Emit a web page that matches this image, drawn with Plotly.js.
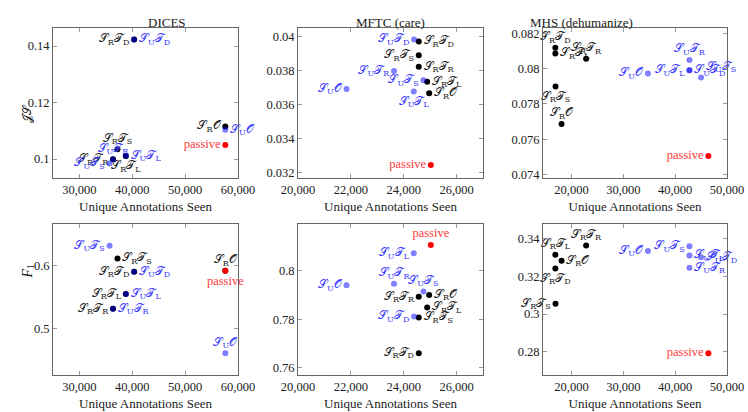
<!DOCTYPE html>
<html>
<head>
<meta charset="utf-8">
<script src="https://cdn.plot.ly/plotly-3.0.1.min.js"></script>
<style>body{margin:0;background:#fff}</style>
</head>
<body>
<div id="chart" style="width:748px;height:412px"></div>
<script>
// order of methods in every array: O, T_D, T_L, T_R, T_S
const methods = ['', 'D', 'L', 'R', 'S'];

// DICES
const dicesSrX = [57600, 40350, 38780, 36350, 37200];
const dicesSrJS = [0.1115, 0.1423, 0.1011, 0.0999, 0.1035];
const dicesSrF1 = [0.592, 0.5905, 0.555, 0.5318, 0.6116];
const dicesSuX = [57600, 40350, 38780, 36350, 35700];
const dicesSuJS = [0.1104, 0.1423, 0.1011, 0.0999, 0.0984];
const dicesSuF1 = [0.4609, 0.5905, 0.555, 0.5318, 0.6317];
const dicesPassive = {x: 57600, js: 0.105, f1: 0.592};

// MFTC (care)
const mftcSrX = [24963, 24570, 24887, 24570, 24570];
const mftcSrJS = [0.03667, 0.03971, 0.03735, 0.03822, 0.0389];
const mftcSrF1 = [0.790, 0.766, 0.7848, 0.7893, 0.7807];
const mftcSuX = [21836, 24393, 24380, 23633, 24747];
const mftcSuJS = [0.03692, 0.03982, 0.03677, 0.03798, 0.03743];
const mftcSuF1 = [0.794, 0.7811, 0.8072, 0.7946, 0.7915];
const mftcPassive = {x: 25026, js: 0.03247, f1: 0.8106};

// MHS (dehumanize)
const mhsSrX = [18077, 16880, 16880, 22820, 16920];
const mhsSrJS = [0.07686, 0.08118, 0.08086, 0.08056, 0.07899];
const mhsSrF1 = [0.3282, 0.3241, 0.3314, 0.3363, 0.3054];
const mhsSuXJS = [34743, 42756, 42756, 42756, 45000];
const mhsSuJS = [0.07972, 0.0799, 0.0799, 0.08048, 0.0795];
const mhsSuXF1 = [34743, 45000, 42756, 42756, 42756];
const mhsSuF1 = [0.3333, 0.3300, 0.331, 0.3245, 0.3358];
const mhsPassive = {x: 46409, js: 0.07504, f1: 0.2793};

// label placement per panel
const pos = {
  dicesJS: {sr: ['middle left','middle left','bottom center','middle left','top center'],
            su: ['middle right','middle right','middle right','top center','middle left'], p: 'middle left'},
  dicesF1: {sr: ['top center','middle left','middle left','middle left','middle right'],
            su: ['top center','middle right','middle right','middle right','middle left'], p: 'bottom center'},
  mftcJS: {sr: ['middle right','middle right','middle right','middle right','middle left'],
           su: ['middle left','middle left','bottom center','middle left','middle left'], p: 'middle left'},
  mftcF1: {sr: ['middle right','middle left','middle right','middle left','middle right'],
           su: ['middle left','middle left','middle left','top center','top center'], p: 'top center'},
  mhsJS: {sr: ['top center','top center','middle right','top center','bottom center'],
          su: ['middle left','middle right','middle left','top center','top right'], p: 'middle left'},
  mhsF1: {sr: ['middle right','bottom center','top center','top center','middle left'],
          su: ['middle left','middle right','middle right','middle right','middle left'], p: 'middle left'}
};

const S = '\u{1D4AE}', T = '\u{1D4AF}', O = '\u{1D4AA}';
const label = (sub) => methods.map(m => S + '<sub>' + sub + '</sub>' + (m ? T + '<sub>' + m + '</sub>' : O));
const srText = label('R');
const suText = label('U');

const serif = 'Liberation Serif';
const labelFont = 'DejaVu Serif';
const traces = [];

function panel(n, srX, srY, suX, suY, px, py, p) {
  const xa = 'x' + (n === 1 ? '' : n), ya = 'y' + (n === 1 ? '' : n);
  traces.push({
    x: srX, y: srY, text: srText, textposition: p.sr, xaxis: xa, yaxis: ya,
    type: 'scatter', mode: 'markers+text', cliponaxis: false,
    marker: {color: '#000', size: 6}, textfont: {color: '#222', size: 11.5, family: labelFont}
  });
  traces.push({
    x: suX, y: suY, text: suText, textposition: p.su, xaxis: xa, yaxis: ya,
    type: 'scatter', mode: 'markers+text', cliponaxis: false,
    marker: {color: 'rgba(0,0,255,0.5)', size: 6}, textfont: {color: '#3a3aff', size: 11.5, family: labelFont}
  });
  traces.push({
    x: [px], y: [py], text: ['passive'], textposition: p.p, xaxis: xa, yaxis: ya,
    type: 'scatter', mode: 'markers+text', cliponaxis: false,
    marker: {color: '#ff0000', size: 6}, textfont: {color: '#ff3a3a', size: 12.5, family: serif}
  });
}

panel(1, dicesSrX, dicesSrJS, dicesSuX, dicesSuJS, dicesPassive.x, dicesPassive.js, pos.dicesJS);
panel(2, mftcSrX, mftcSrJS, mftcSuX, mftcSuJS, mftcPassive.x, mftcPassive.js, pos.mftcJS);
panel(3, mhsSrX, mhsSrJS, mhsSuXJS, mhsSuJS, mhsPassive.x, mhsPassive.js, pos.mhsJS);
panel(4, dicesSrX, dicesSrF1, dicesSuX, dicesSuF1, dicesPassive.x, dicesPassive.f1, pos.dicesF1);
panel(5, mftcSrX, mftcSrF1, mftcSuX, mftcSuF1, mftcPassive.x, mftcPassive.f1, pos.mftcF1);
panel(6, mhsSrX, mhsSrF1, mhsSuXF1, mhsSuF1, mhsPassive.x, mhsPassive.f1, pos.mhsF1);

const W = 748, H = 412;
const cols = [[53, 238], [298, 483], [543, 727]];
const rows = [[28, 178], [224, 375]];
const xRanges = [[25000, 60000], [20000, 27000], [14500, 50000]];
const xTicks = [[30000, 40000, 50000, 60000], [20000, 22000, 24000, 26000], [20000, 30000, 40000, 50000]];
const yRanges = [[0.0933, 0.1464], [0.0317, 0.0405], [0.0738, 0.0823],
                 [0.4265, 0.6662], [0.757, 0.8193], [0.2678, 0.3476]];
const yTicks = [[0.1, 0.12, 0.14], [0.032, 0.034, 0.036, 0.038, 0.04], [0.074, 0.076, 0.078, 0.08, 0.082],
                [0.5, 0.6], [0.76, 0.78, 0.8], [0.28, 0.3, 0.32, 0.34]];
const titles = ['DICES', 'MFTC (care)', 'MHS (dehumanize)'];

const tickFont = {family: serif, size: 12.5, color: '#222'};
const layout = {
  width: W, height: H, margin: {l: 0, r: 0, t: 0, b: 0},
  paper_bgcolor: '#fff', plot_bgcolor: '#fff', showlegend: false,
  font: tickFont, annotations: []
};

for (let i = 0; i < 6; i++) {
  const c = i % 3, r = Math.floor(i / 3);
  const key = i === 0 ? '' : String(i + 1);
  const common = {
    showline: true, mirror: 'ticks', linecolor: '#666', linewidth: 1,
    ticks: 'inside', ticklen: 4, tickcolor: '#999', showgrid: false, zeroline: false,
    tickfont: tickFont
  };
  layout['xaxis' + key] = Object.assign({}, common, {
    domain: [cols[c][0] / W, cols[c][1] / W], anchor: 'y' + key,
    range: xRanges[c], tickvals: xTicks[c], tickformat: ',d',
    title: {text: 'Unique Annotations Seen', font: {family: serif, size: 13, color: '#222'}, standoff: 5}
  });
  layout['yaxis' + key] = Object.assign({}, common, {
    domain: [1 - rows[r][1] / H, 1 - rows[r][0] / H], anchor: 'x' + key,
    range: yRanges[i], tickvals: yTicks[i]
  });
}

titles.forEach((t, c) => layout.annotations.push({
  text: t, xref: 'paper', yref: 'paper', x: (cols[c][0] + cols[c][1]) / 2 / W, y: 1 - 13 / H,
  showarrow: false, font: {family: serif, size: 13, color: '#222'}
}));
layout.annotations.push({
  text: '\u{1D4A5}\u{1D4AE}', xref: 'paper', yref: 'paper', x: 17 / W, y: 1 - 102 / H, textangle: -90,
  showarrow: false, font: {family: labelFont, size: 12, color: '#222'}
});
layout.annotations.push({
  text: '<i>F</i><sub>1</sub>', xref: 'paper', yref: 'paper', x: 17 / W, y: 1 - 271 / H, textangle: -90,
  showarrow: false, font: {family: serif, size: 14, color: '#222'}
});

Plotly.newPlot('chart', traces, layout, {staticPlot: true});
</script>
</body>
</html>
